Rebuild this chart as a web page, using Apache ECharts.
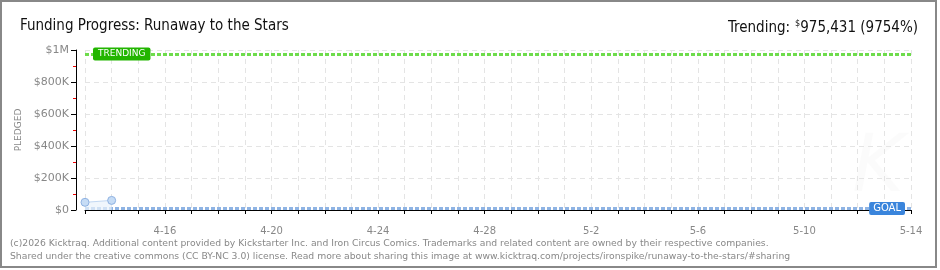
<!DOCTYPE html>
<html>
<head>
<meta charset="utf-8">
<script src="https://cdn.jsdelivr.net/npm/echarts@6/dist/echarts.min.js"></script>
<style>
html,body{margin:0;padding:0;background:#fff;}
#chart{width:940px;height:270px;}
</style>
</head>
<body>
<div id="chart"></div>
<script>
// ---- data ----
var dates = ['4-13','4-14','4-15','4-16','4-17','4-18','4-19','4-20','4-21','4-22','4-23','4-24','4-25','4-26','4-27','4-28','4-29','4-30','5-1','5-2','5-3','5-4','5-5','5-6','5-7','5-8','5-9','5-10','5-11','5-12','5-13','5-14'];
var pledged = [48000, 60000];
var goalValue = 10000;
var trendingValue = 975431;
var yTicks = ['$0','$200K','$400K','$600K','$800K','$1M'];
var titleText = 'Funding Progress: Runaway to the Stars';
var trendText = 'Trending:';
var trendAmount = '975,431';
var trendPct = '(9754%)';
var footer1 = '(c)2026 Kicktraq. Additional content provided by Kickstarter Inc. and Iron Circus Comics. Trademarks and related content are owned by their respective companies.';
var footer2 = 'Shared under the creative commons (CC BY-NC 3.0) license. Read more about sharing this image at www.kicktraq.com/projects/ironspike/runaway-to-the-stars/#sharing';

var chart = echarts.init(document.getElementById('chart'), null, {renderer:'canvas'});
var labelFont = 'DejaVu Sans';
var titleFont = 'DejaVu Sans Condensed, sans-serif';

var option = {
  animation: false,
  backgroundColor: '#fff',
  title: [
    {text: titleText, left: 15, top: 14, textStyle: {fontFamily: titleFont, fontSize: 15, fontWeight: 'normal', color: '#111'}},
    {text: '{a|' + trendText + '} {s|$}{a|' + trendAmount + ' ' + trendPct + '}', right: 17, top: 14,
      textStyle: {fontWeight: 'normal', rich: {
        a: {fontFamily: titleFont, fontSize: 15, fontWeight: 'normal', color: '#111'},
        s: {fontFamily: titleFont, fontSize: 9, fontWeight: 'normal', color: '#111', verticalAlign: 'top', padding:[0,0,8,0]}
      }}},
    {text: footer1, left: 5, top: 234, textStyle: {fontFamily: labelFont, fontSize: 9.25, fontWeight: 'normal', color: '#888'}},
    {text: footer2, left: 5, top: 247, textStyle: {fontFamily: labelFont, fontSize: 9.25, fontWeight: 'normal', color: '#888'}}
  ],
  graphic: [
    {type: 'rect', silent: true, shape: {x: 1, y: 1, width: 935, height: 266}, style: {fill: 'none', stroke: '#888', lineWidth: 2}},
    {type: 'text', silent: true, left: 852, top: 130, style: {text: 'K', font: 'italic 80px DejaVu Sans', fill: 'rgba(0,0,0,0.015)'}}
  ],
  grid: {left: 85, right: 29, top: 50, bottom: 60},
  xAxis: {
    type: 'category',
    data: dates,
    boundaryGap: false,
    offset: 10,
    axisLine: {show: true, lineStyle: {color: '#000', width: 1}},
    axisTick: {show: true, interval: 0, length: 4, lineStyle: {color: '#000'}},
    axisLabel: {
      interval: function (i) { return (i + 1) % 4 === 0; },
      color: '#888', fontFamily: labelFont, fontSize: 10, margin: 6
    },
    splitLine: {show: true, interval: 0, lineStyle: {color: '#e4e4e4', type: [5, 4], width: 1}}
  },
  yAxis: {
    type: 'value',
    min: 0, max: 1000000, interval: 200000,
    offset: 9,
    name: 'PLEDGED',
    nameLocation: 'middle',
    nameGap: 48,
    nameTextStyle: {color: '#888', fontFamily: labelFont, fontSize: 9},
    axisLine: {show: true, lineStyle: {color: '#000', width: 1}},
    axisTick: {show: true, length: 5, lineStyle: {color: '#000'}},
    minorTick: {show: true, splitNumber: 2, length: 3, lineStyle: {color: '#e00', width: 1}},
    axisLabel: {
      formatter: function (v) { return yTicks[Math.round(v / 200000)]; },
      color: '#888', fontFamily: labelFont, fontSize: 11, margin: 7
    },
    splitLine: {show: true, lineStyle: {color: '#e4e4e4', type: [5, 4], width: 1}}
  },
  series: [
    {
      type: 'line',
      data: pledged,
      symbol: 'circle',
      symbolSize: 8,
      lineStyle: {color: '#c2d8f2', width: 1},
      itemStyle: {color: '#c6dcf5', borderColor: '#8fb2e2', borderWidth: 1},
      areaStyle: {color: '#eaf2fb'},
      z: 5,
      markLine: {
        silent: true,
        symbol: 'none',
        animation: false,
        data: [
          {yAxis: trendingValue,
            lineStyle: {color: '#6edc4c', width: 3, type: [4, 2]},
            label: {show: true, position: 'insideStart', distance: 8, formatter: 'TRENDING',
              color: '#fff', backgroundColor: '#22b500', fontFamily: labelFont, fontSize: 9,
              padding: [2, 5, 2, 5], borderRadius: 2}},
          {yAxis: goalValue,
            lineStyle: {color: '#8fb4e4', width: 3, type: [4, 2]},
            label: {show: true, position: 'insideEnd', distance: 6, formatter: 'GOAL',
              color: '#fff', backgroundColor: '#3a85dc', fontFamily: labelFont, fontSize: 10,
              padding: [2, 4, 1, 4], borderRadius: 2}}
        ]
      }
    }
  ]
};
chart.setOption(option);
</script>
</body>
</html>
